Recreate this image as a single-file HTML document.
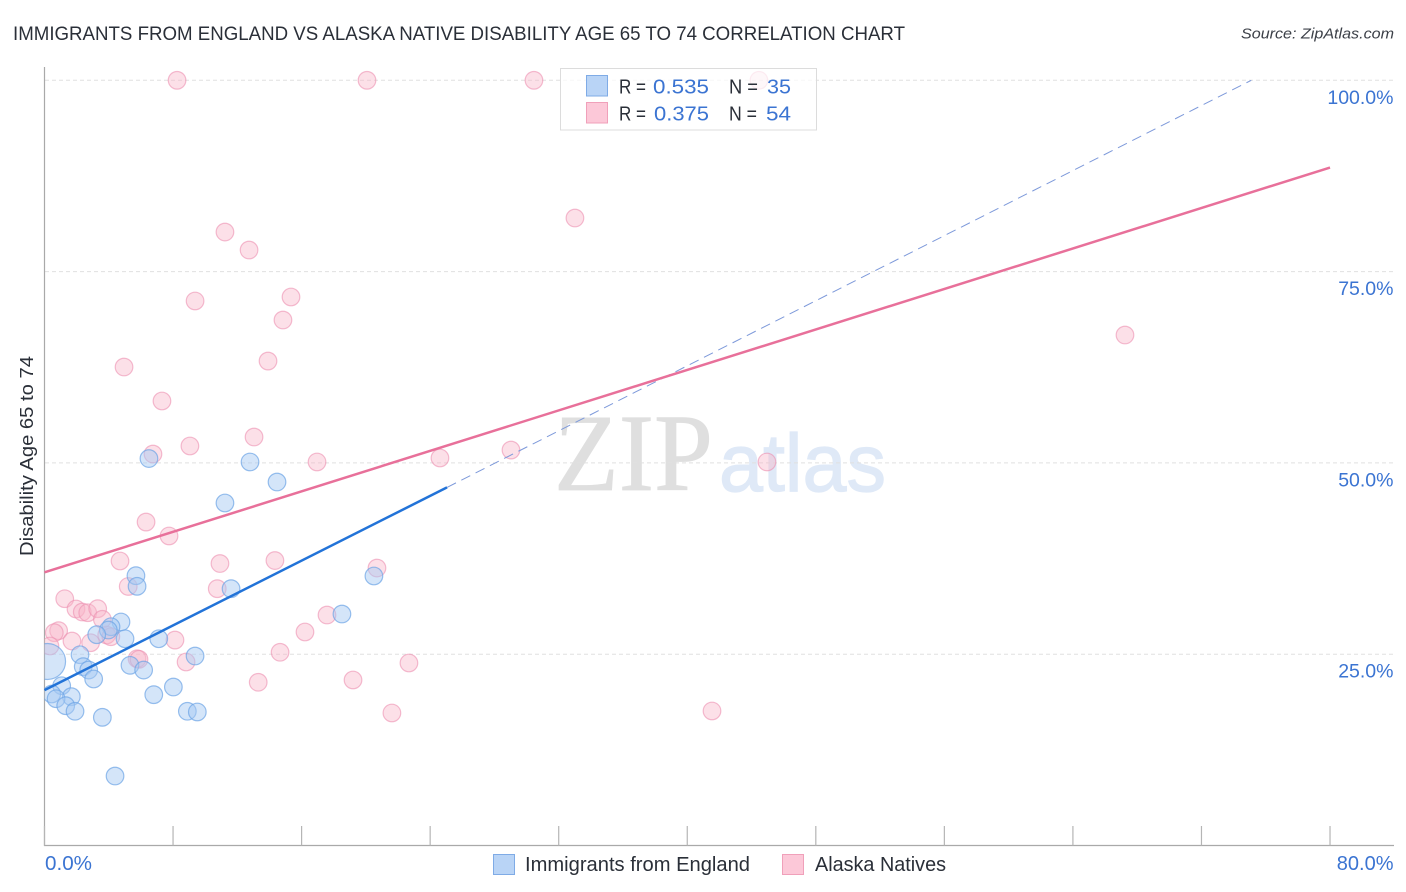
<!DOCTYPE html>
<html lang="en">
<head>
<meta charset="utf-8">
<title>Immigrants from England vs Alaska Native Disability Age 65 to 74 Correlation Chart</title>
<style>
  html, body { margin: 0; padding: 0; background: #fff; }
  svg { display: block; font-family: "Liberation Sans", sans-serif; }
</style>
</head>
<body>
<svg id="chart" xmlns="http://www.w3.org/2000/svg" width="1406" height="892" viewBox="0 0 1406 892">
  <defs>
    <clipPath id="plot-clip"><rect x="44.5" y="60" width="1350" height="786"></rect></clipPath>
  </defs>
  <rect x="0" y="0" width="1406" height="892" fill="#ffffff"></rect>

  <text x="13" y="40" font-size="19.5" fill="#2a2f38" textLength="892" lengthAdjust="spacingAndGlyphs">IMMIGRANTS FROM ENGLAND VS ALASKA NATIVE DISABILITY AGE 65 TO 74 CORRELATION CHART</text>
  <text x="1241" y="38.5" font-size="15" font-style="italic" fill="#3c4048" textLength="153" lengthAdjust="spacingAndGlyphs">Source: ZipAtlas.com</text>

  <g>
    <text x="554" y="490" font-family="'Liberation Serif', serif" font-size="110" fill="#dfdfdf" stroke="#dfdfdf" stroke-width="0.8" textLength="159" lengthAdjust="spacingAndGlyphs">ZIP</text>
    <text x="719" y="491" font-size="82" fill="#dfe9f7" stroke="#dfe9f7" stroke-width="1.2" textLength="167" lengthAdjust="spacingAndGlyphs">atlas</text>
  </g>

  <g id="grid-layer"></g>
  <g id="axis-layer"></g>
  <g id="point-layer" clip-path="url(#plot-clip)"></g>
  <g id="line-layer"></g>
  <g id="label-layer"></g>

  <text transform="translate(33,456) rotate(-90)" text-anchor="middle" font-size="18" fill="#2a2f38" textLength="200" lengthAdjust="spacingAndGlyphs">Disability Age 65 to 74</text>

  <g>
    <rect x="560.5" y="68.5" width="256" height="61.5" fill="#ffffff" fill-opacity="0.72" stroke="#dcdcdc" stroke-width="1"></rect>
    <rect x="586.5" y="75.5" width="21" height="20.5" fill="#b9d4f6" stroke="#7fabe6" stroke-width="1"></rect>
    <text x="619" y="93.5" font-size="20" fill="#2a2f38" textLength="27" lengthAdjust="spacingAndGlyphs">R =</text>
    <text x="653" y="93.5" font-size="20" fill="#3b74d2" textLength="56" lengthAdjust="spacingAndGlyphs">0.535</text>
    <text x="729" y="93.5" font-size="20" fill="#2a2f38" textLength="29" lengthAdjust="spacingAndGlyphs">N =</text>
    <text x="767" y="93.5" font-size="20" fill="#3b74d2" textLength="24" lengthAdjust="spacingAndGlyphs">35</text>
    <rect x="586.5" y="102.5" width="21" height="20.5" fill="#fcc8d8" stroke="#f0a0ba" stroke-width="1"></rect>
    <text x="619" y="120.5" font-size="20" fill="#2a2f38" textLength="27" lengthAdjust="spacingAndGlyphs">R =</text>
    <text x="654" y="120.5" font-size="20" fill="#3b74d2" textLength="55" lengthAdjust="spacingAndGlyphs">0.375</text>
    <text x="729" y="120.5" font-size="20" fill="#2a2f38" textLength="28" lengthAdjust="spacingAndGlyphs">N =</text>
    <text x="766" y="120.5" font-size="20" fill="#3b74d2" textLength="25" lengthAdjust="spacingAndGlyphs">54</text>
  </g>

  <g>
    <rect x="493.5" y="854.5" width="21" height="20" fill="#b9d4f6" stroke="#7fabe6" stroke-width="1"></rect>
    <text x="525" y="871" font-size="20" fill="#2a2f38" textLength="225" lengthAdjust="spacingAndGlyphs">Immigrants from England</text>
    <rect x="782.5" y="854.5" width="21" height="20" fill="#fcc8d8" stroke="#f0a0ba" stroke-width="1"></rect>
    <text x="815" y="871" font-size="20" fill="#2a2f38" textLength="131" lengthAdjust="spacingAndGlyphs">Alaska Natives</text>
  </g>
</svg>

<script>
const englandX = [6.50,12.79,14.47,11.23,11.61,18.51,20.50,0.19,5.69,5.76,4.76,4.14,3.97,3.25,5.01,7.11,9.37,2.21,2.41,2.75,5.32,6.17,3.06,1.07,8.02,6.80,1.67,0.45,0.72,1.32,1.90,3.60,8.89,9.51,4.39];
const englandY = [50.57,50.12,47.50,44.76,33.56,30.25,35.22,24.05,35.26,33.87,29.21,28.59,28.16,27.55,27.02,27.02,24.76,24.93,23.37,22.93,23.55,22.93,21.76,20.88,20.71,19.71,19.45,19.80,19.18,18.27,17.54,16.75,17.54,17.45,9.08];
const englandLargestIndex = 7;

const alaskaX = [8.25,20.07,30.46,44.46,33.01,11.23,12.73,9.37,15.34,14.84,13.91,4.95,7.31,6.75,9.05,13.04,16.96,24.61,29.03,44.96,6.32,7.75,4.70,10.92,14.34,20.69,5.21,10.75,67.24,1.26,1.96,2.35,2.69,3.31,3.60,0.88,0.61,0.34,1.71,2.87,3.87,4.13,5.76,5.88,8.12,8.81,14.66,13.30,16.21,17.58,19.20,21.62,22.68,41.54];
const alaskaY = [100,100,100,100,82.00,80.17,77.82,71.16,71.68,68.67,63.31,62.53,58.09,51.16,52.21,53.38,50.12,50.64,51.68,50.12,42.27,40.45,37.18,36.85,37.24,36.26,33.85,33.56,66.71,32.25,30.91,30.51,30.42,30.95,29.56,28.07,27.81,26.07,26.72,26.50,27.51,27.29,24.41,24.33,26.85,23.98,25.25,21.33,27.90,30.12,21.63,17.32,23.85,17.58];

const englandTrendX = [0, 25.05];
const englandTrendY = [20.3, 46.8];
const englandProjectionX = [25.05, 75.1];
const englandProjectionY = [46.8, 100];
const alaskaTrendX = [0, 80];
const alaskaTrendY = [35.7, 88.6];

const xTickValues = [0,8,16,24,32,40,48,56,64,72,80];
const yGridValues = [25,50,75,100];
const xEndLabels = ["0.0%","80.0%"];
const yTickLabels = ["25.0%","50.0%","75.0%","100.0%"];

const NS = "http://www.w3.org/2000/svg";
function xScale(v) { return 44.5 + v * 16.069; }
function yScale(v) { return 845.5 - v * 7.652; }
function make(tag, attrs) {
  const el = document.createElementNS(NS, tag);
  for (const k in attrs) el.setAttribute(k, attrs[k]);
  return el;
}

const gridLayer = document.getElementById("grid-layer");
const axisLayer = document.getElementById("axis-layer");
const pointLayer = document.getElementById("point-layer");
const lineLayer = document.getElementById("line-layer");
const labelLayer = document.getElementById("label-layer");

yGridValues.forEach(function (v) {
  const el = make("line", { x1: 45, x2: 1394, y1: yScale(v), y2: yScale(v), stroke: "#e0e0e0", "stroke-width": 1, "stroke-dasharray": "4 3" });
  
  
  gridLayer.appendChild(el);
});

const yAxis = make("line", { x1: 44.5, x2: 44.5, y1: 67, y2: 846, stroke: "#a9a9a9", "stroke-width": 1.2 });


axisLayer.appendChild(yAxis);

const xAxis = make("line", { x1: 44, x2: 1394, y1: 845.5, y2: 845.5, stroke: "#a9a9a9", "stroke-width": 1.2 });


axisLayer.appendChild(xAxis);

xTickValues.forEach(function (v) {
  const el = make("line", { x1: xScale(v), x2: xScale(v), y1: 826, y2: 845.5, stroke: "#b5b5b5", "stroke-width": 1.2 });
  
  
  axisLayer.appendChild(el);
});

alaskaX.forEach(function (x, i) {
  const el = make("circle", { cx: xScale(x), cy: yScale(alaskaY[i]), r: 8.8, fill: "#f8b4c8", "fill-opacity": 0.42, stroke: "#ec90b0", "stroke-opacity": 0.6, "stroke-width": 1.2 });
  
  
  pointLayer.appendChild(el);
});

englandX.forEach(function (x, i) {
  const radius = i === englandLargestIndex ? 18 : 8.8;
  const el = make("circle", { cx: xScale(x), cy: yScale(englandY[i]), r: radius, fill: "#a6c8f2", "fill-opacity": 0.48, stroke: "#6ca4e6", "stroke-opacity": 0.7, "stroke-width": 1.2 });
  
  
  pointLayer.appendChild(el);
});

const projection = make("line", { x1: xScale(englandProjectionX[0]), y1: yScale(englandProjectionY[0]), x2: xScale(englandProjectionX[1]), y2: yScale(englandProjectionY[1]), stroke: "#7d99da", "stroke-width": 1, "stroke-dasharray": "10 6" });


lineLayer.appendChild(projection);

const alaskaTrend = make("line", { x1: xScale(alaskaTrendX[0]), y1: yScale(alaskaTrendY[0]), x2: xScale(alaskaTrendX[1]), y2: yScale(alaskaTrendY[1]), stroke: "#e8709a", "stroke-width": 2.5 });


lineLayer.appendChild(alaskaTrend);

const englandTrend = make("line", { x1: xScale(englandTrendX[0]), y1: yScale(englandTrendY[0]), x2: xScale(englandTrendX[1]), y2: yScale(englandTrendY[1]), stroke: "#2273d8", "stroke-width": 2.5 });


lineLayer.appendChild(englandTrend);

yGridValues.forEach(function (v, i) {
  const el = make("text", { x: 1393.5, y: yScale(v) + 23.5, "text-anchor": "end", "font-size": 19.5, fill: "#3b74d2" });
  
  
  el.textContent = yTickLabels[i];
  labelLayer.appendChild(el);
});

const xStart = make("text", { x: 45, y: 870, "font-size": 20, fill: "#3b74d2", textLength: 47, lengthAdjust: "spacingAndGlyphs" });


xStart.textContent = xEndLabels[0];
labelLayer.appendChild(xStart);

const xEnd = make("text", { x: 1393.5, y: 870, "text-anchor": "end", "font-size": 20, fill: "#3b74d2" });


xEnd.textContent = xEndLabels[1];
labelLayer.appendChild(xEnd);
</script>
</body>
</html>
